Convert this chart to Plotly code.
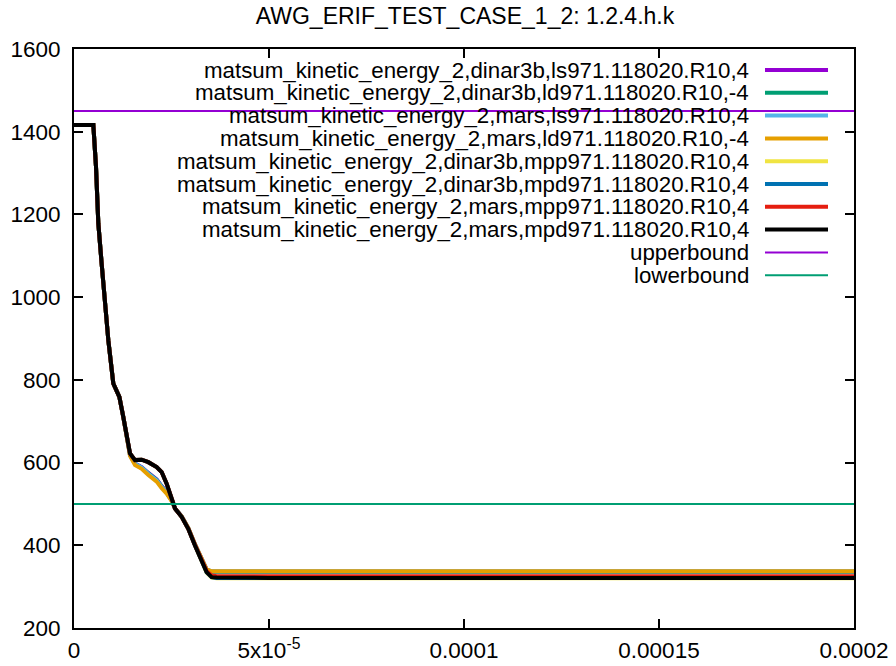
import plotly.graph_objects as go

# ---- data ----
time_s = [0, 4.96e-6, 5.64e-6, 6.24e-6, 7.09e-6, 7.95e-6, 8.80e-6, 1.008e-5, 1.163e-5,
          1.265e-5, 1.35e-5, 1.436e-5, 1.564e-5, 1.735e-5, 1.906e-5, 2.12e-5, 2.248e-5,
          2.376e-5, 2.505e-5, 2.59e-5, 2.76e-5, 2.93e-5, 3.10e-5, 3.27e-5, 3.40e-5,
          3.53e-5, 3.66e-5, 5e-5, 1e-4, 1.5e-4, 2e-4]

ke_dinar3b_ls = [1416, 1416, 1315, 1178, 1081, 992, 896, 791, 759, 710, 661, 619, 598, 589, 575,
                 559, 543, 529, 509, 489, 470, 441, 402, 364, 341, 336, 336, 336, 336, 336, 336]
ke_dinar3b_ld = [1416, 1416, 1315, 1178, 1081, 992, 896, 791, 759, 710, 661, 619, 597, 588, 574,
                 558, 542, 528, 508, 489, 470, 441, 402, 364, 341, 336, 336, 336, 336, 336, 336]
ke_mars_ls = [1416, 1416, 1315, 1178, 1081, 992, 896, 791, 759, 710, 660, 618, 597, 588, 573,
              557, 541, 527, 508, 489, 470, 442, 403, 365, 342, 337, 337, 337, 337, 337, 337]
ke_mars_ld = [1416, 1416, 1315, 1178, 1081, 992, 896, 791, 759, 710, 660, 616, 594, 585, 570,
              554, 538, 525, 507, 489, 470, 442, 403, 365, 342, 337, 337, 337, 337, 337, 337]
ke_dinar3b_mpp = [1416, 1416, 1315, 1178, 1081, 992, 896, 791, 759, 710, 662, 622, 606, 607, 601,
                  589, 577, 549, 513, 489, 469, 440, 400, 359, 334, 322, 320, 320, 320, 320, 320]
ke_dinar3b_mpd = [1416, 1416, 1315, 1178, 1081, 992, 896, 791, 759, 710, 662, 622, 606, 607, 601,
                  589, 577, 549, 513, 489, 469, 440, 400, 360, 335, 323, 321, 321, 321, 321, 321]
ke_mars_mpp = [1416, 1416, 1315, 1178, 1081, 992, 896, 791, 759, 710, 662, 622, 606, 607, 601,
               589, 577, 549, 513, 489, 469, 440, 401, 362, 338, 327, 325, 325, 325, 325, 325]
ke_mars_mpd = [1416, 1416, 1315, 1178, 1081, 992, 896, 791, 759, 710, 662, 622, 606, 607, 601,
               589, 577, 549, 513, 489, 469, 440, 400, 360, 335, 323, 322, 321, 321, 321, 321]

bound_x = [0, 2e-4]
upperbound = [1450, 1450]
lowerbound = [500, 500]

series_names = [
    "matsum_kinetic_energy_2,dinar3b,ls971.118020.R10,4",
    "matsum_kinetic_energy_2,dinar3b,ld971.118020.R10,-4",
    "matsum_kinetic_energy_2,mars,ls971.118020.R10,4",
    "matsum_kinetic_energy_2,mars,ld971.118020.R10,-4",
    "matsum_kinetic_energy_2,dinar3b,mpp971.118020.R10,4",
    "matsum_kinetic_energy_2,dinar3b,mpd971.118020.R10,4",
    "matsum_kinetic_energy_2,mars,mpp971.118020.R10,4",
    "matsum_kinetic_energy_2,mars,mpd971.118020.R10,4",
    "upperbound",
    "lowerbound",
]
series_values = [ke_dinar3b_ls, ke_dinar3b_ld, ke_mars_ls, ke_mars_ld,
                 ke_dinar3b_mpp, ke_dinar3b_mpd, ke_mars_mpp, ke_mars_mpd]
colors = ["#9400d3", "#009e73", "#56b4e9", "#e69f00", "#f0e442", "#0072b2", "#e51e10", "#000000",
          "#9400d3", "#009e73"]

x_tickvals = [0, 5e-5, 1e-4, 1.5e-4, 2e-4]
x_ticktext = ["0", "5x10<sup>-5</sup>", "0.0001", "0.00015", "0.0002"]
y_tickvals = [200, 400, 600, 800, 1000, 1200, 1400, 1600]

FONT = "Liberation Sans, Arial, sans-serif"
FS = 22.5
FS_KEY = 22.3
FS_TITLE = 23

W, H = 896, 666
PL, PR, PT, PB = 74, 854, 49, 628  # plot area in window pixels

fig = go.Figure()
for name, vals, col in zip(series_names[:8], series_values, colors[:8]):
    fig.add_trace(go.Scatter(x=time_s, y=vals, mode="lines", name=name,
                             line=dict(color=col, width=4), showlegend=False))
fig.add_trace(go.Scatter(x=bound_x, y=upperbound, mode="lines", name="upperbound",
                         line=dict(color=colors[8], width=2), showlegend=False))
fig.add_trace(go.Scatter(x=bound_x, y=lowerbound, mode="lines", name="lowerbound",
                         line=dict(color=colors[9], width=2), showlegend=False))

# gnuplot-style key: right-aligned text with sample line to the right
row_y0, row_dy = 70, 22.8
annotations = []
shapes = []
for i, (name, col) in enumerate(zip(series_names, colors)):
    py = row_y0 + i * row_dy
    yp = (PB - py) / (PB - PT)
    annotations.append(dict(x=(751 - PL) / (PR - PL), y=yp, xref="paper", yref="paper",
                            text=name, showarrow=False, xanchor="right", yanchor="middle",
                            font=dict(family=FONT, size=FS_KEY, color="black")))
    shapes.append(dict(type="line", xref="paper", yref="paper",
                       x0=(765 - PL) / (PR - PL), x1=(828 - PL) / (PR - PL), y0=yp, y1=yp,
                       line=dict(color=col, width=4 if i < 8 else 2)))

fig.update_layout(
    template="none",
    width=W, height=H,
    margin=dict(l=PL, r=W - PR, t=PT, b=H - PB, autoexpand=False),
    paper_bgcolor="white", plot_bgcolor="white",
    font=dict(family=FONT, size=FS, color="black"),
    title=dict(text="AWG_ERIF_TEST_CASE_1_2: 1.2.4.h.k",
               x=465 / W, xanchor="center",
               y=1 - 16 / H, yanchor="middle",
               font=dict(family=FONT, size=FS_TITLE, color="black")),
    annotations=annotations,
    shapes=shapes,
    showlegend=False,
)
fig.update_xaxes(range=[0, 2e-4], tickvals=x_tickvals, ticktext=x_ticktext, automargin=False,
                 showgrid=False, zeroline=False, showline=True, linecolor="black", linewidth=2,
                 mirror="ticks", ticks="inside", ticklen=9, tickwidth=1.5, tickcolor="black",
                 ticklabelstandoff=1,
                 tickfont=dict(family=FONT, size=FS, color="black"))
fig.update_yaxes(range=[200, 1600], tickvals=y_tickvals, automargin=False,
                 showgrid=False, zeroline=False, showline=True, linecolor="black", linewidth=2,
                 mirror="ticks", ticks="inside", ticklen=9, tickwidth=1.5, tickcolor="black",
                 ticklabelstandoff=7,
                 tickfont=dict(family=FONT, size=FS, color="black"))

fig.write_html("out.html", config={"displayModeBar": False},
               post_script="document.body.style.margin='0';document.body.style.overflow='hidden';")
